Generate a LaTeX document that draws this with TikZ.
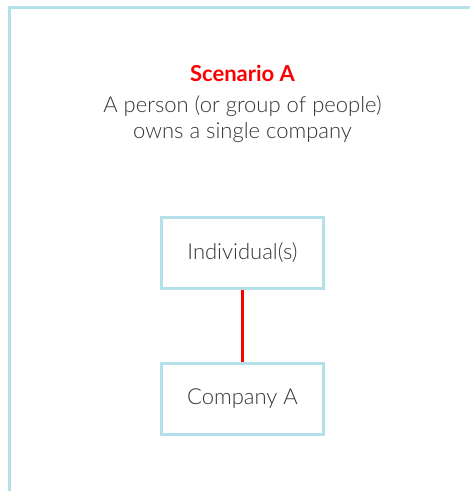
\documentclass[tikz,border=0pt]{standalone}
\usepackage{fontspec}
\setmainfont{Lato}[UprightFont=* Light, BoldFont=* Bold]
\usepackage{tikz}
\usetikzlibrary{positioning}
\definecolor{frameblue}{RGB}{180,224,234}
\definecolor{linkred}{RGB}{250,0,0}
\definecolor{textgrey}{RGB}{51,51,51}
\tikzset{%
  x=1pt, y=1pt,
  frame/.style={draw=frameblue, line width=3pt}, % outer panel lines
  party/.style={% boxes for owners and companies
    draw=frameblue, line width=3pt, rectangle,
    minimum width=162pt, minimum height=71pt,
    font=\fontsize{22}{26}\selectfont, text=textgrey
  },
  owns/.style={draw=linkred, line width=3pt}
}

\begin{document}
\begin{tikzpicture}
    \useasboundingbox (0,0) rectangle (470,-491);
    \draw[frame] (9,-491) -- (9,-7) -- (470,-7);

    \node[font=\bfseries\fontsize{22}{26}\selectfont, text=linkred] (title) at (242.5,-73) {Scenario A};
    \node[below=7pt of title, align=center, text=textgrey,
          font=\fontsize{22}{26}\selectfont] (desc) {A person (or group of people)\\owns a single company};

    \node[party] (ind) at (242.5,-253) {Individual(s)};
    \node[party, below=72pt of ind] (compA) {Company A};

    \draw[owns] (ind) -- (compA);
\end{tikzpicture}
\end{document}
